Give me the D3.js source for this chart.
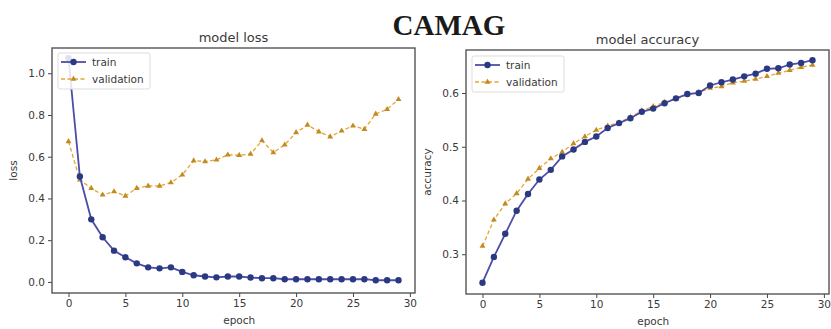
<!DOCTYPE html>
<html>
<head>
<meta charset="utf-8">
<script src="https://cdn.jsdelivr.net/npm/d3@7"></script>
<style>
  body { margin: 0; background: #fff; }
  svg text { font-family: "DejaVu Sans", sans-serif; fill: #3a3a3a; }
</style>
</head>
<body>
<div id="chart"></div>
<script>
var width = 831,
  height = 329;

// epochs 0..29
var epochs = d3.range(30);

var lossTrain = [1.072, 0.505, 0.300, 0.214, 0.150, 0.118, 0.089, 0.070, 0.065, 0.070,
  0.048, 0.032, 0.026, 0.022, 0.026, 0.026, 0.021, 0.018, 0.018, 0.013,
  0.013, 0.013, 0.013, 0.013, 0.013, 0.013, 0.013, 0.008, 0.008, 0.008];
var lossVal = [0.673, 0.489, 0.449, 0.417, 0.433, 0.412, 0.449, 0.460, 0.460, 0.476,
  0.513, 0.581, 0.577, 0.585, 0.609, 0.607, 0.613, 0.677, 0.620, 0.657,
  0.716, 0.752, 0.720, 0.696, 0.724, 0.748, 0.732, 0.805, 0.827, 0.875];

var accTrain = [0.247, 0.295, 0.338, 0.381, 0.412, 0.439, 0.457, 0.482, 0.495, 0.509,
  0.519, 0.535, 0.544, 0.553, 0.565, 0.571, 0.581, 0.590, 0.598, 0.600,
  0.614, 0.620, 0.625, 0.631, 0.636, 0.645, 0.646, 0.653, 0.656, 0.661];
var accVal = [0.315, 0.364, 0.394, 0.413, 0.440, 0.460, 0.478, 0.490, 0.506, 0.519,
  0.531, 0.539, 0.545, 0.555, 0.567, 0.575, 0.583, 0.589, 0.597, 0.601,
  0.609, 0.612, 0.619, 0.622, 0.626, 0.631, 0.637, 0.642, 0.648, 0.652];

var xTicks = [0, 5, 10, 15, 20, 25, 30];
var lossTicks = [0.0, 0.2, 0.4, 0.6, 0.8, 1.0];
var accTicks = [0.3, 0.4, 0.5, 0.6];
var seriesNames = ["train", "validation"];

var trainLine = "#4d4ca6", trainDot = "#2a3a82";
var valLine = "#e3a634", valDot = "#c38a22";

var svg = d3.select("#chart").append("svg")
  .attr("width", width)
  .attr("height", height);

svg.append("text")
  .attr("x", 449)
  .attr("y", 35)
  .attr("text-anchor", "middle")
  .style("font-family", "'Liberation Serif', 'DejaVu Serif', serif")
  .style("font-weight", "bold")
  .style("font-size", "29px")
  .style("fill", "#1a1a1a")
  .text("CAMAG");

function drawPanel(opts) {
  var x = d3.scaleLinear().domain([-1.45, 30.45]).range([opts.left, opts.right]);
  var y = d3.scaleLinear().domain(opts.yDomain).range([opts.bottom, opts.top]);
  var g = svg.append("g");

  g.append("text")
    .attr("x", (opts.left + opts.right) / 2)
    .attr("y", opts.top - 6)
    .attr("text-anchor", "middle")
    .style("font-size", "13px")
    .text(opts.title);

  var xAxis = g.append("g")
    .attr("transform", "translate(0," + opts.bottom + ")")
    .call(d3.axisBottom(x).tickValues(xTicks).tickSize(4).tickPadding(3).tickFormat(d3.format("d")));
  var yAxis = g.append("g")
    .attr("transform", "translate(" + opts.left + ",0)")
    .call(d3.axisLeft(y).tickValues(opts.yTicks).tickSize(4).tickPadding(3).tickFormat(d3.format(".1f")));
  [xAxis, yAxis].forEach(function (a) {
    a.select(".domain").remove();
    a.selectAll("line").attr("stroke", "#444");
    a.selectAll("text").style("font-size", "10.5px").style("fill", "#3a3a3a").attr("fill", null);
  });

  g.append("rect")
    .attr("x", opts.left)
    .attr("y", opts.top)
    .attr("width", opts.right - opts.left)
    .attr("height", opts.bottom - opts.top)
    .attr("fill", "none")
    .attr("stroke", "#555")
    .attr("stroke-width", 1.4);

  g.append("text")
    .attr("x", (x(0) + x(30)) / 2)
    .attr("y", opts.bottom + 31)
    .attr("text-anchor", "middle")
    .style("font-size", "10.5px")
    .text("epoch");

  g.append("text")
    .attr("transform", "translate(" + opts.yLabelX + "," + ((opts.top + opts.bottom) / 2) + ") rotate(-90)")
    .attr("text-anchor", "middle")
    .style("font-size", "10.5px")
    .text(opts.yLabel);

  var line = d3.line().x(function (d, i) { return x(epochs[i]); }).y(function (d) { return y(d); });
  var tri = d3.symbol().type(d3.symbolTriangle).size(15);

  g.append("path")
    .attr("d", line(opts.val))
    .attr("fill", "none")
    .attr("stroke", valLine)
    .attr("stroke-width", 1.3)
    .attr("stroke-dasharray", "4,2.5");
  g.selectAll(".vdot").data(opts.val).enter().append("path")
    .attr("class", "vdot")
    .attr("d", tri)
    .attr("transform", function (d, i) { return "translate(" + x(epochs[i]) + "," + y(d) + ")"; })
    .attr("fill", valDot);

  g.append("path")
    .attr("d", line(opts.train))
    .attr("fill", "none")
    .attr("stroke", trainLine)
    .attr("stroke-width", 1.8);
  g.selectAll(".tdot").data(opts.train).enter().append("circle")
    .attr("class", "tdot")
    .attr("cx", function (d, i) { return x(epochs[i]); })
    .attr("cy", function (d) { return y(d); })
    .attr("r", 3.2)
    .attr("fill", trainDot);

  // legend
  var lg = g.append("g").attr("transform", "translate(" + opts.legend[0] + "," + opts.legend[1] + ")");
  lg.append("rect")
    .attr("width", 92).attr("height", 36).attr("rx", 2)
    .attr("fill", "rgba(255,255,255,0.85)")
    .attr("stroke", "#ddd");
  seriesNames.forEach(function (name, i) {
    var cy = 9 + i * 17;
    lg.append("line")
      .attr("x1", 3).attr("x2", 28).attr("y1", cy).attr("y2", cy)
      .attr("stroke", i ? valLine : trainLine)
      .attr("stroke-width", i ? 1.3 : 1.8)
      .attr("stroke-dasharray", i ? "4,2.5" : null);
    if (i) {
      lg.append("path").attr("d", tri).attr("transform", "translate(15.5," + cy + ")").attr("fill", valDot);
    } else {
      lg.append("circle").attr("cx", 15.5).attr("cy", cy).attr("r", 3.2).attr("fill", trainDot);
    }
    lg.append("text")
      .attr("x", 34).attr("y", cy + 4)
      .style("font-size", "10.5px")
      .text(name);
  });
}

drawPanel({
  left: 52, right: 415, top: 48, bottom: 293,
  yDomain: [-0.053, 1.121], yTicks: lossTicks,
  title: "model loss", yLabel: "loss", yLabelX: 17,
  train: lossTrain, val: lossVal, legend: [58, 53]
});

drawPanel({
  left: 466, right: 829, top: 50, bottom: 294,
  yDomain: [0.226, 0.68], yTicks: accTicks,
  title: "model accuracy", yLabel: "accuracy", yLabelX: 431,
  train: accTrain, val: accVal, legend: [472, 56]
});
</script>
</body>
</html>
